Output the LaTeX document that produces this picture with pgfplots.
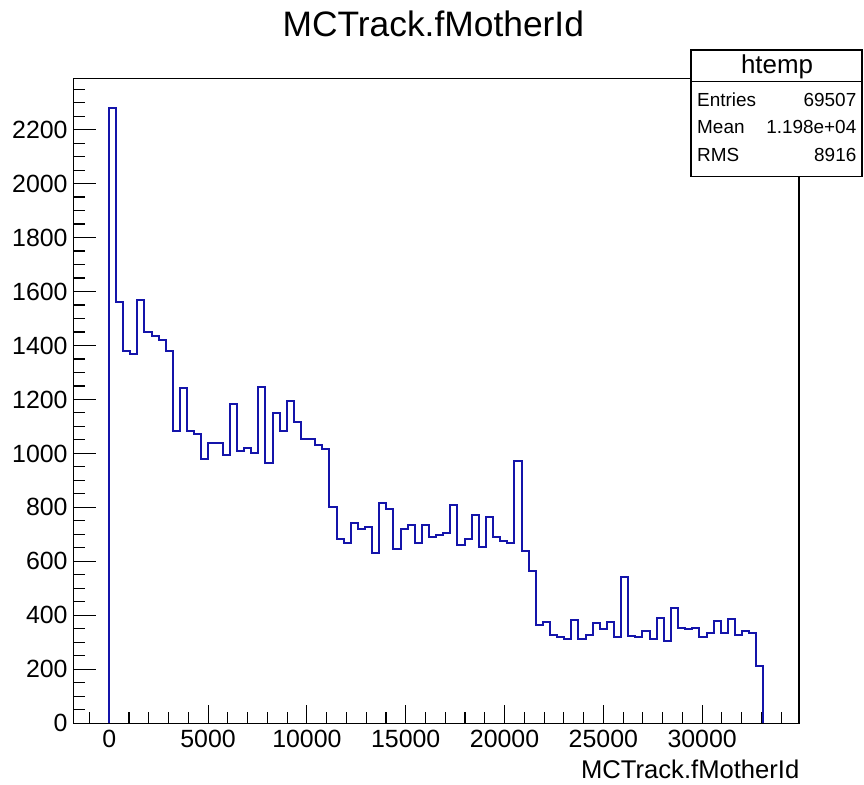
\documentclass[border=0pt]{standalone}
\usepackage{fontspec}
\setmainfont{Liberation Sans}
\usepackage{pgfplots}
\pgfplotsset{compat=1.18}
\usepackage{pgfplotstable}
\definecolor{histblue}{RGB}{20,20,170}
\pgfplotstableread{
x y
-20 0
-20 2281
340 1561
700 1381
1060 1369
1420 1567
1780 1450
2140 1436
2500 1419
2860 1378
3220 1083
3580 1242
3940 1083
4300 1071
4660 980
5020 1040
5380 1040
5740 994
6100 1182
6460 1009
6820 1019
7180 1003
7540 1248
7900 966
8260 1151
8620 1083
8980 1196
9340 1116
9700 1054
10060 1054
10420 1032
10780 1017
11140 803
11500 682
11860 669
12220 741
12580 720
12940 728
13300 632
13660 815
14020 795
14380 645
14740 720
15100 735
15460 669
15820 735
16180 691
16540 698
16900 706
17260 809
17620 660
17980 683
18340 772
18700 654
19060 763
19420 689
19780 677
20140 669
20500 972
20860 639
21220 564
21580 364
21940 376
22300 329
22660 320
23020 312
23380 382
23740 312
24100 327
24460 370
24820 350
25180 377
25540 318
25900 541
26260 324
26620 318
26980 341
27340 312
27700 392
28060 304
28420 429
28780 355
29140 348
29500 355
29860 318
30220 333
30580 378
30940 333
31300 385
31660 327
32020 341
32380 333
32740 213
33100 0
}\histdata
\begin{document}
\begin{tikzpicture}
\path[use as bounding box] (0,0) rectangle (864bp,-785bp);
\pgfplotsset{
  rootaxis/.style={
    at={(73.3bp,-723.3bp)}, anchor=south west,
    scale only axis, width=725.7bp, height=645bp,
    xmin=-1820, xmax=34900, ymin=0, ymax=2390,
    axis line style={line width=1.4bp, black},
    tick style={line width=1.1bp, black},
    tick align=inside, xtick pos=left, ytick pos=left,
    scaled ticks=false,
    /pgf/number format/1000 sep={},
    /pgf/number format/assume math mode=true,
    tick label style={font=\fontsize{25}{25}\selectfont},
    xticklabel style={anchor=north, inner sep=0pt, yshift=-6.5bp},
    yticklabel style={anchor=east, inner sep=0pt, xshift=-5.5bp},
  }
}
\begin{axis}[rootaxis, xtick={0,5000,...,30000}, minor xtick={-1000,0,...,34000}, ytick=\empty, major tick length=18bp, minor tick length=11bp]
\end{axis}
\begin{axis}[rootaxis, xtick=\empty, ytick={0,200,...,2200}, minor ytick={0,50,...,2350}, major tick length=23bp, minor tick length=12bp]
\addplot[const plot mark left, histblue, line width=2bp, no marks] table[x=x,y=y]{\histdata};
\end{axis}
\node[anchor=base, font=\fontsize{35.5}{35.5}\selectfont, inner sep=0pt] at (433.3bp,-36bp) {MCTrack.fMotherId};
\node[anchor=base east, font=\fontsize{25.7}{25.7}\selectfont, inner sep=0pt] at (799.5bp,-778bp) {MCTrack.fMotherId};
\filldraw[fill=white, draw=black, line width=1.2bp] (691bp,-50bp) rectangle (862bp,-176.7bp);
\draw[line width=1.2bp] (691bp,-81.7bp) -- (862bp,-81.7bp);
\node[anchor=base, font=\fontsize{26}{26}\selectfont, inner sep=0pt] at (777bp,-73.5bp) {htemp};
\node[anchor=base west, font=\fontsize{19}{19}\selectfont, inner sep=0pt] at (697bp,-106bp) {Entries};
\node[anchor=base east, font=\fontsize{19}{19}\selectfont, inner sep=0pt] at (856.5bp,-106bp) {69507};
\node[anchor=base west, font=\fontsize{19}{19}\selectfont, inner sep=0pt] at (697bp,-133.5bp) {Mean};
\node[anchor=base east, font=\fontsize{19}{19}\selectfont, inner sep=0pt] at (856.5bp,-133.5bp) {1.198e+04};
\node[anchor=base west, font=\fontsize{19}{19}\selectfont, inner sep=0pt] at (697bp,-161bp) {RMS};
\node[anchor=base east, font=\fontsize{19}{19}\selectfont, inner sep=0pt] at (856.5bp,-161bp) {8916};
\end{tikzpicture}
\end{document}
